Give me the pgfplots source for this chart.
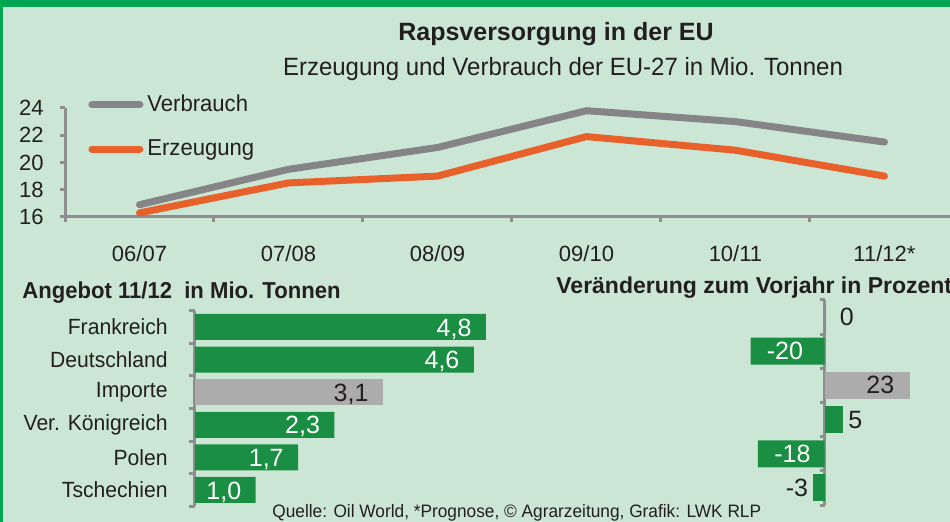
\documentclass[border=0pt]{standalone}
\usepackage{fontspec}
\setmainfont{Liberation Sans}
\newfontfamily\nf[FakeStretch=0.96]{Liberation Sans}
\usepackage{pgfplots}
\pgfplotsset{compat=1.18}
\definecolor{bg}{HTML}{CBE6D4}
\definecolor{topgreen}{HTML}{00A651}
\definecolor{bargreen}{HTML}{1A8F43}
\definecolor{bargray}{HTML}{ACACAC}
\definecolor{axisgray}{HTML}{8E8E8E}
\definecolor{linegray}{HTML}{858487}
\definecolor{lineorange}{HTML}{E8612A}
\definecolor{txt}{HTML}{231F20}
\pgfplotsset{/pgf/number format/assume math mode=true}
\newcommand{\fs}[1]{\fontsize{#1}{1.2\dimexpr#1\relax}\selectfont}
\begin{document}
\begin{tikzpicture}
\useasboundingbox (0,0) rectangle (475pt,261pt);
\fill[bg] (0,0) rectangle (475pt,261pt);
\fill[topgreen] (0,257.5pt) rectangle (475pt,261pt);
\fill[topgreen] (0,0) rectangle (1.5pt,261pt);
\begin{scope}
\clip (0,0) rectangle (475pt,261pt);
% titles
\node[anchor=base, text=txt, font=\bfseries\fs{12.5pt}, inner sep=0pt] at (278pt,240.6pt) {Rapsversorgung in der EU};
\node[anchor=base, text=txt, font=\nf\fs{12.5pt}, inner sep=0pt] at (281.5pt,223pt) {Erzeugung und Verbrauch der EU-27 in Mio. Tonnen};
\node[anchor=base west, text=txt, font=\nf\bfseries\fs{11.5pt}, inner sep=0pt] at (11pt,111.9pt) {Angebot 11/12\ \ in Mio. Tonnen};
\node[anchor=base west, text=txt, font=\bfseries\fs{11.5pt}, inner sep=0pt] at (278pt,114pt) {Veränderung zum Vorjahr in Prozent};
\node[anchor=base west, text=txt, font=\nf\fs{9pt}, inner sep=0pt] at (136pt,2.2pt) {Quelle: Oil World, *Prognose, © Agrarzeitung, Grafik: LWK RLP};

% line chart
\begin{axis}[
  at={(32.5pt,152.5pt)}, anchor=south west,
  scale only axis, width=442.5pt, height=54.5pt,
  xmin=-0.5, xmax=5.44, ymin=16, ymax=24,
  axis x line*=bottom, axis y line*=left,
  axis line style={draw=axisgray, line width=1.5pt},
  ytick={16,18,20,22,24},
  xtick={-0.5,0.5,...,4.5},
  xticklabels={06/07,07/08,08/09,09/10,10/11,11/12*},
  tick align=outside, major tick length=2.5pt,
  tick style={draw=axisgray, line width=1.5pt},
  xticklabel style={xshift=37.25pt, yshift=-11.5pt, inner sep=0pt, text=txt, font=\fs{11pt}},
  yticklabel style={inner sep=0pt, xshift=-8pt, text=txt, font=\fs{11pt}},
  clip=false,
  legend style={at={(axis description cs:0.026,1.16)}, anchor=north west, draw=none, fill=none,
    font=\nf\fs{11.5pt}, text=txt, row sep=8.5pt, inner sep=0pt, cells={anchor=west}},
  legend image code/.code={\draw[#1, line cap=round] (0pt,0pt) -- (24pt,0pt);},
]
\addplot[linegray, line width=3.5pt, line join=round, line cap=round] coordinates {(0,16.9) (1,19.5) (2,21.1) (3,23.8) (4,23.0) (5,21.5)};
\addlegendentry{Verbrauch}
\addplot[lineorange, line width=3.5pt, line join=round, line cap=round] coordinates {(0,16.3) (1,18.5) (2,19.0) (3,21.9) (4,20.9) (5,19.0)};
\addlegendentry{Erzeugung}
\end{axis}

% left bar chart
\begin{axis}[
  at={(97.5pt,7.85pt)}, anchor=south west,
  scale only axis, width=151.5pt, height=97.8pt,
  xmin=0, xmax=5, ymin=-0.5, ymax=5.5,
  xbar, bar width=13pt, bar shift=0pt,
  axis x line=none, axis y line*=left,
  axis line style={draw=axisgray, line width=1.5pt},
  ytick={-0.5,0.5,...,5.5},
  yticklabels={Tschechien,Polen,Ver. Königreich,Importe,Deutschland,Frankreich,{}},
  yticklabel style={yshift=8.15pt, xshift=-10.5pt, inner sep=0pt, text=txt, font=\nf\fs{11pt}},
  tick align=outside, major tick length=3pt,
  tick style={draw=axisgray, line width=1.5pt},
  clip=false,
  point meta=x,
  nodes near coords={\pgfmathprintnumber[use comma,fixed,fixed zerofill,precision=1]{\pgfplotspointmeta}},
  every node near coord/.append style={anchor=east, xshift=-7pt, yshift=-1pt, font=\fs{12.5pt}, inner sep=0pt},
]
\addplot[fill=bargreen, draw=none, every node near coord/.append style={text=white}] coordinates {(4.8,5) (4.6,4) (2.3,2) (1.7,1) (1.0,0)};
\addplot[fill=bargray, draw=none, every node near coord/.append style={text=txt}] coordinates {(3.1,3)};
\end{axis}

% right bar chart
\begin{axis}[
  at={(412.25pt,8.45pt)}, anchor=south west,
  scale only axis, width=46.25pt, height=102.6pt,
  xmin=0, xmax=25, ymin=-0.5, ymax=5.5,
  xbar, bar width=13.5pt, bar shift=0pt,
  axis x line=none, axis y line*=left,
  axis line style={draw=axisgray, line width=1.5pt},
  ytick={-0.5,0.5,...,5.5}, yticklabels={},
  tick align=outside, major tick length=2.5pt,
  tick style={draw=axisgray, line width=1.5pt},
  clip=false,
  point meta=x,
  nodes near coords={\pgfmathprintnumber[fixed,precision=0]{\pgfplotspointmeta}},
  every node near coord/.append style={font=\fs{12.5pt}, inner sep=0pt},
]
\addplot[fill=bargreen, draw=none, every node near coord/.append style={anchor=west, xshift=8pt, text=white}] coordinates {(-20,4) (-18,1)};
\addplot[fill=bargray, draw=none, every node near coord/.append style={anchor=east, xshift=-7.5pt, text=txt}] coordinates {(23,3)};
\addplot[fill=bargreen, draw=none, every node near coord/.append style={anchor=west, xshift=2.5pt, text=txt}] coordinates {(5,2)};
\addplot[fill=bargreen, draw=none, every node near coord/.append style={anchor=east, xshift=-2.5pt, text=txt}] coordinates {(-3,0)};
\addplot[fill=bargreen, draw=none, every node near coord/.append style={anchor=west, xshift=7.5pt, text=txt}] coordinates {(0,5)};
\end{axis}
\end{scope}
\end{tikzpicture}
\end{document}
